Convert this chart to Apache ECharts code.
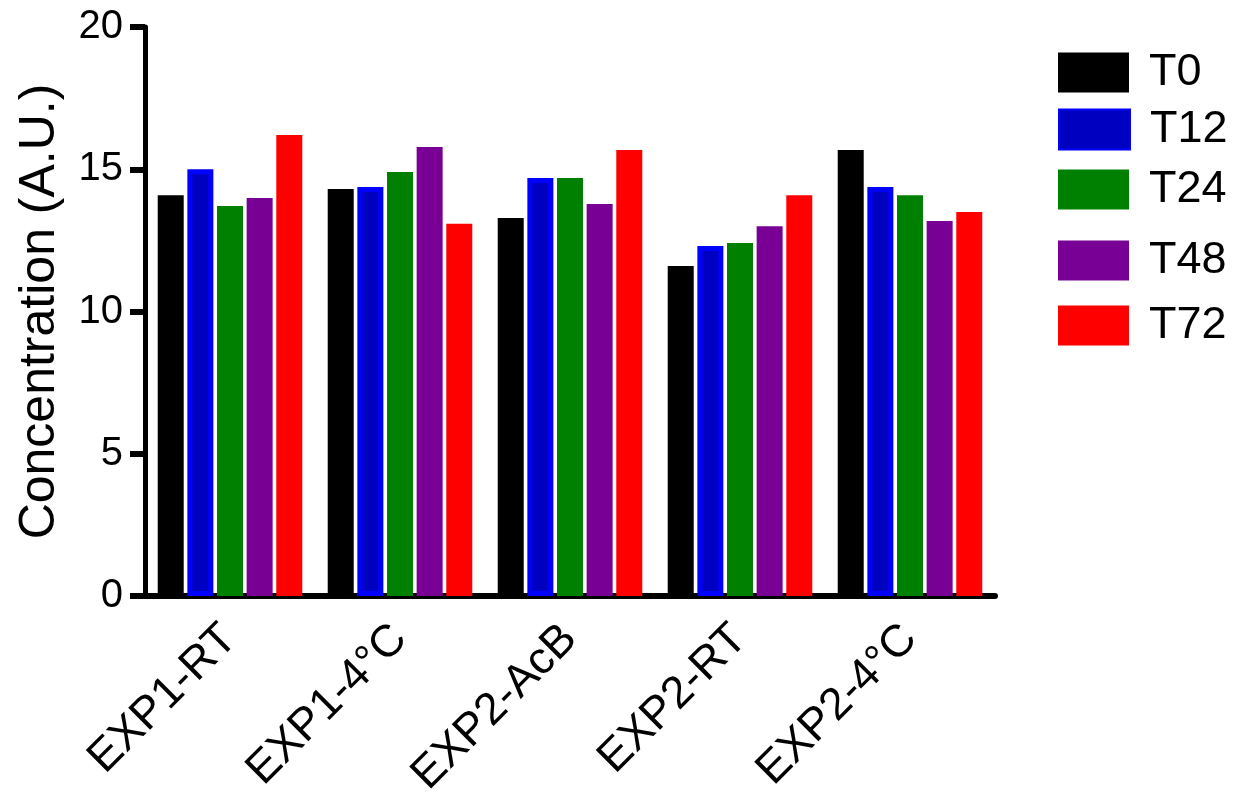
<!DOCTYPE html>
<html>
<head>
<meta charset="utf-8">
<script src="https://cdn.jsdelivr.net/npm/echarts@6/dist/echarts.min.js"></script>
<style>html,body{margin:0;padding:0;background:#fff;}#c{width:1236px;height:807px;}</style>
</head>
<body>
<div id="c"></div>
<script>
var categories = ['EXP1-RT', 'EXP1-4°C', 'EXP2-AcB', 'EXP2-RT', 'EXP2-4°C'];
var seriesNames = ['T0', 'T12', 'T24', 'T48', 'T72'];
var T0  = [14.09, 14.31, 13.29, 11.60, 15.68];
var T12 = [15.00, 14.38, 14.69, 12.30, 14.38];
var T24 = [13.71, 14.90, 14.69, 12.41, 14.09];
var T48 = [13.99, 15.78, 13.78, 13.00, 13.18];
var T72 = [16.20, 13.08, 15.68, 14.09, 13.50];
var yTicks = [0, 5, 10, 15, 20];

var values = [T0, T12, T24, T48, T72];
var colors = ['#000000', '#0000C0', '#008000', '#780094', '#FF0000'];
var borders = [null, '#0000FF', null, null, null];
var legendTops = [45, 102, 162, 233, 298];

var FONT = '"Liberation Sans", Arial, sans-serif';
var chart = echarts.init(document.getElementById('c'));

var series = seriesNames.map(function (n, i) {
  var st = { color: colors[i] };
  if (borders[i]) { st.borderColor = borders[i]; st.borderWidth = 5; }
  return {
    name: n, type: 'bar', data: values[i],
    barWidth: 26, barGap: '14%',
    itemStyle: st
  };
});

var legends = seriesNames.map(function (n, i) {
  return {
    data: [n], left: 1053, top: legendTops[i], orient: 'vertical',
    itemWidth: 71, itemHeight: 40, itemGap: 0,
    icon: 'rect',
    textStyle: { fontFamily: FONT, fontSize: 45, color: '#000', padding: [0, 0, 0, 15] },
    selectedMode: false
  };
});

chart.setOption({
  backgroundColor: '#fff',
  animation: false,
  grid: { left: 145, right: 241, top: 27, bottom: 211, containLabel: false },
  legend: legends,
  xAxis: {
    type: 'category', data: categories,
    axisLine: { lineStyle: { color: '#000', width: 6 } },
    axisTick: { alignWithLabel: true, length: 17, lineStyle: { color: '#000', width: 4 } },
    axisLabel: { rotate: 45, margin: 36, fontFamily: FONT, fontSize: 45, color: '#000', interval: 0 }
  },
  yAxis: {
    type: 'value', min: yTicks[0], max: yTicks[yTicks.length - 1], interval: 5,
    name: 'Concentration (A.U.)', nameLocation: 'middle', nameGap: 80,
    nameTextStyle: { fontFamily: FONT, fontSize: 50, color: '#000' },
    axisLine: { show: true, lineStyle: { color: '#000', width: 5 } },
    axisTick: { show: true, length: 15, lineStyle: { color: '#000', width: 6 } },
    axisLabel: { margin: 22, fontFamily: FONT, fontSize: 40, color: '#000' },
    splitLine: { show: false }
  },
  series: series
});
</script>
</body>
</html>
